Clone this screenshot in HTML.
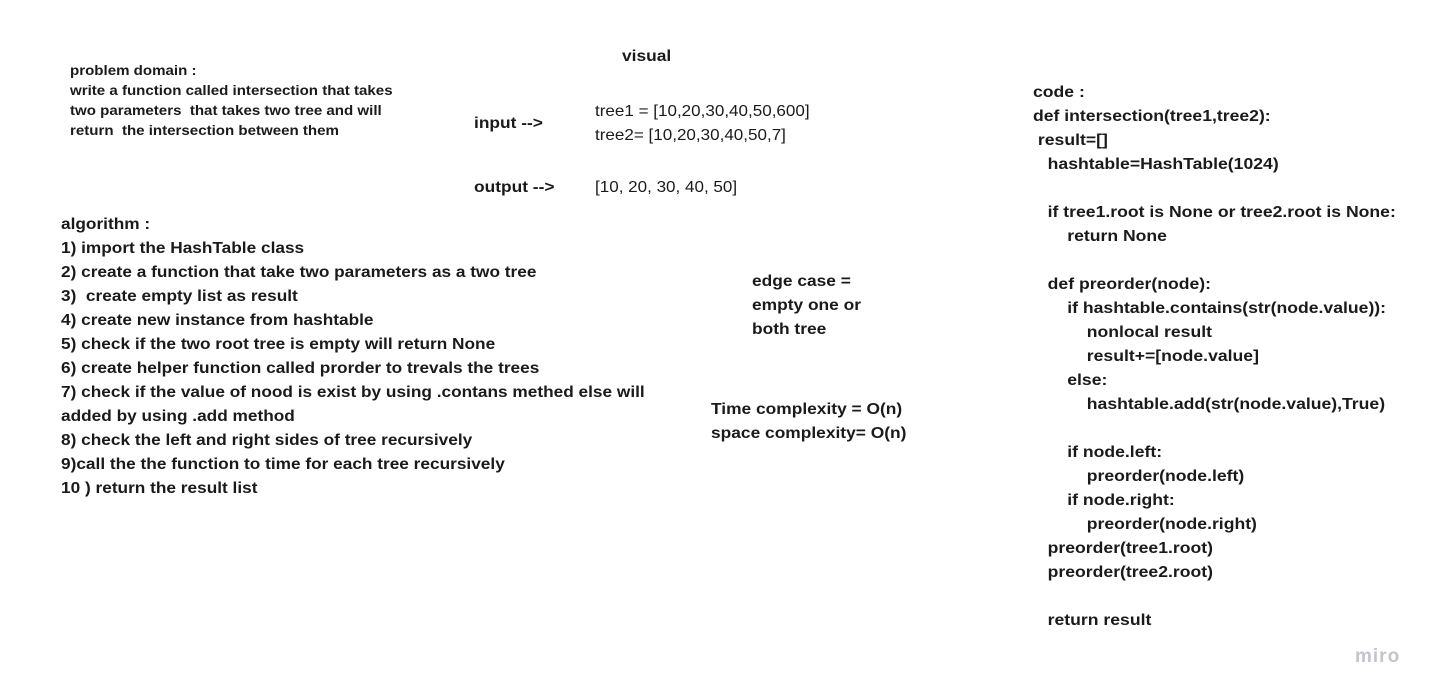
<!DOCTYPE html>
<html><head><meta charset="utf-8"><style>
body{margin:0;width:1433px;height:697px;background:#fff;position:relative;overflow:hidden;font-family:"Liberation Sans",sans-serif;color:#1a1a1a}
.t{position:absolute;white-space:pre;font-weight:bold;font-size:16px;line-height:24px;transform:scaleX(1.085);transform-origin:0 0}
.n{font-weight:normal;transform:scaleX(1.065)}
</style></head><body>
<div class="t" style="left:70px;top:60px;font-size:14px;line-height:20px;transform:scaleX(1.077)">problem domain :
write a function called intersection that takes
two parameters  that takes two tree and will
return  the intersection between them</div>
<div class="t" style="left:622px;top:45px">visual</div>
<div class="t" style="left:474px;top:112px">input --&gt;</div>
<div class="t n" style="left:595px;top:100px">tree1 = [10,20,30,40,50,600]
tree2= [10,20,30,40,50,7]</div>
<div class="t" style="left:474px;top:176px">output --&gt;</div>
<div class="t n" style="left:595px;top:176px">[10, 20, 30, 40, 50]</div>
<div class="t" style="left:61px;top:213px;transform:scaleX(1.078)">algorithm :
1) import the HashTable class
2) create a function that take two parameters as a two tree
3)  create empty list as result
4) create new instance from hashtable
5) check if the two root tree is empty will return None
6) create helper function called prorder to trevals the trees
7) check if the value of nood is exist by using .contans methed else will
added by using .add method
8) check the left and right sides of tree recursively
9)call the the function to time for each tree recursively
10 ) return the result list</div>
<div class="t" style="left:752px;top:270px">edge case =
empty one or
both tree</div>
<div class="t" style="left:711px;top:398px">Time complexity = O(n)
space complexity= O(n)</div>
<div class="t" style="left:1033px;top:81px;transform:scaleX(1.1)">code :
def intersection(tree1,tree2):
 result=[]
   hashtable=HashTable(1024)

   if tree1.root is None or tree2.root is None:
       return None

   def preorder(node):
       if hashtable.contains(str(node.value)):
           nonlocal result
           result+=[node.value]
       else:
           hashtable.add(str(node.value),True)

       if node.left:
           preorder(node.left)
       if node.right:
           preorder(node.right)
   preorder(tree1.root)
   preorder(tree2.root)

   return result</div>
<div class="t" style="left:1355px;top:645px;font-size:19px;color:#c4c4cc;letter-spacing:1px;transform:none">miro</div>
</body></html>
